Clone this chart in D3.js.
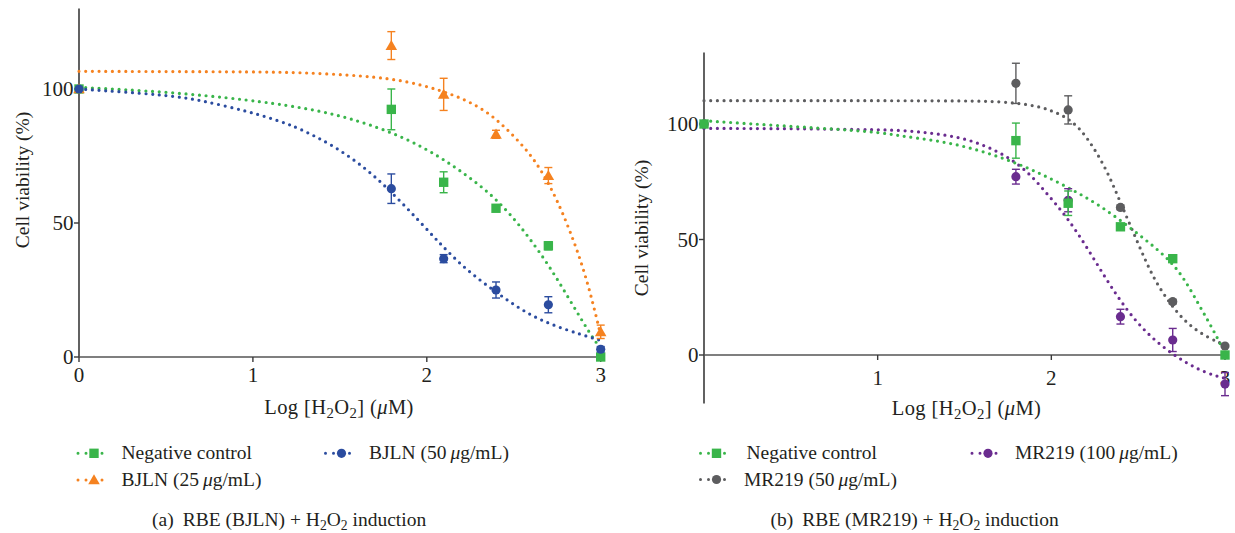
<!DOCTYPE html>
<html>
<head>
<meta charset="utf-8">
<script src="https://cdn.jsdelivr.net/npm/d3@7"></script>
<style>
  html, body { margin: 0; padding: 0; background: #fff; }
  svg { display: block; }
  text { font-family: "Liberation Serif", "DejaVu Serif", serif; fill: #231f20; }
</style>
</head>
<body>
<svg id="chart" width="1235" height="533"></svg>
<script>
// ---------------- DATA ----------------
const logConc = [0, 1.796, 2.097, 2.398, 2.699, 3];
const xTicksA = [0, 1, 2, 3];
const xTicksB = [1, 2, 3];
const yTicks = [0, 50, 100];

// Panel (a)
const ncA = [100, 92.4, 65.2, 55.5, 41.5, 0];
const ncAErr = [0, 7.6, 3.9, 1, 1.5, 0.5];
const bjln25 = [100, 116.2, 98, 83.1, 67.7, 9.4];
const bjln25Err = [0, 5.2, 6, 1.5, 3, 2.5];
const bjln50 = [100, 62.8, 36.7, 25, 19.5, 2.9];
const bjln50Err = [0, 5.5, 1.5, 3, 3, 1];

// fitted curves [logConc, viability]
const ncAFit = [[0,100.6],[0.504,99.0],[0.983,95.9],[1.27,93.2],[1.462,90.7],[1.653,87.2],[1.883,81.6],[2.075,74.7],[2.228,67.9],[2.362,61.1],[2.477,53.6],[2.592,44.3],[2.707,33.7],[2.822,21.3],[2.937,8.8],[2.99,4.0]];
const bjln25Fit = [[0,106.6],[0.5,106.5],[1.0,106.4],[1.27,106.2],[1.653,104.9],[1.883,103.0],[2.075,99.6],[2.228,95.9],[2.362,90.9],[2.477,84.1],[2.592,76.0],[2.669,68.5],[2.745,59.2],[2.822,47.4],[2.898,33.7],[2.956,20.0],[2.997,9.0]];
const bjln50Fit = [[0,100],[0.504,97.8],[0.695,95.9],[0.983,91.5],[1.174,87.6],[1.27,85.2],[1.462,79.0],[1.653,70.3],[1.806,61.0],[1.960,50.5],[2.094,41.0],[2.228,32.5],[2.381,25.0],[2.515,18.8],[2.649,13.8],[2.803,10.1],[2.956,7.0],[2.994,6.3]];

// Panel (b)
const ncB = [100, 92.8, 65.7, 55.5, 41.7, 0];
const ncBErr = [0, 7.6, 5.3, 1, 1.5, 0.5];
const mr50 = [100, 117.6, 106.1, 63.9, 23.1, 3.9];
const mr50Err = [0, 8.7, 6.1, 1, 1, 0.5];
const mr100 = [100, 77.2, 67, 16.6, 6.5, -12.6];
const mr100Err = [0, 3.2, 5, 3.2, 5, 5];

const ncBFit = [[0,101.4],[0.53,98.8],[0.994,96.7],[1.128,94.8],[1.320,93.1],[1.512,90.2],[1.704,85.8],[1.896,80.1],[2.088,72.9],[2.280,64.9],[2.472,54.1],[2.664,42.6],[2.760,33.9],[2.856,20.9],[2.933,10.8],[2.985,3.0]];
const mr50Fit = [[0,110.1],[0.5,110.1],[1.0,110.1],[1.5,110.0],[1.704,109.8],[1.896,108.2],[1.992,106.1],[2.088,102.9],[2.165,98.1],[2.241,90.2],[2.318,80.1],[2.376,70.0],[2.433,59.9],[2.491,49.8],[2.549,39.7],[2.606,31.0],[2.683,22.4],[2.760,15.2],[2.856,9.4],[2.971,5.1],[3.0,4.5]];
const mr100Fit = [[0,98.1],[0.5,98.0],[0.917,97.6],[1.128,97.4],[1.320,96.0],[1.512,93.8],[1.704,88.0],[1.858,80.1],[1.973,70.0],[2.088,59.9],[2.203,46.9],[2.318,32.5],[2.433,19.5],[2.549,9.4],[2.664,2.2],[2.779,-3.6],[2.894,-7.9],[3.0,-10.1]];

const legendA = ["Negative control", "BJLN (25 ", "BJLN (50 "];
const legendB = ["Negative control", "MR219 (50 ", "MR219 (100 "];

const colors = { green: "#39b54a", orange: "#f58220", blue: "#2b4c9f", gray: "#5d5d5f", purple: "#6a2c8f" };

// ---------------- DRAW ----------------
const svg = d3.select("#chart");
const axisColor = "#3a3a3a";
const FS = 19.5;
const TFS = 21;

function drawPanel(p) {
  const g = svg.append("g");
  const x = d3.scaleLinear().domain([0, 3]).range(p.xRange);
  const y = d3.scaleLinear().domain(p.yDomain).range(p.yRange);

  // axes
  g.append("line").attr("x1", x(0)).attr("x2", x(0)).attr("y1", y(p.yDomain[0])).attr("y2", y(p.yDomain[1]))
    .attr("stroke", axisColor).attr("stroke-width", 1.6);
  g.append("line").attr("x1", x(0)).attr("x2", x(3) + 1).attr("y1", y(0)).attr("y2", y(0))
    .attr("stroke", "#555").attr("stroke-width", 1.6);

  // y ticks
  p.yTicks.forEach(t => {
    g.append("line").attr("x1", x(0) - 5).attr("x2", x(0)).attr("y1", y(t)).attr("y2", y(t))
      .attr("stroke", axisColor).attr("stroke-width", 1.4);
    g.append("text").attr("x", x(0) - 5.5).attr("y", y(t) + 7).attr("text-anchor", "end")
      .attr("font-size", TFS).text(t);
  });
  // x ticks
  p.xTicks.forEach(t => {
    g.append("line").attr("x1", x(t)).attr("x2", x(t)).attr("y1", y(0)).attr("y2", y(0) + 5)
      .attr("stroke", axisColor).attr("stroke-width", 1.4);
    g.append("text").attr("x", x(t)).attr("y", y(0) + p.xLabelDy).attr("text-anchor", "middle")
      .attr("font-size", TFS).text(t);
  });

  // axis titles
  g.append("text").attr("transform", `translate(${p.yTitle[0]},${p.yTitle[1]}) rotate(-90)`)
    .attr("text-anchor", "middle").attr("font-size", FS).text("Cell viability (%)");
  const xt = g.append("text").attr("x", p.xTitle[0]).attr("y", p.xTitle[1]).attr("text-anchor", "middle")
    .attr("font-size", 20.5).attr("letter-spacing", 0.4);
  xt.append("tspan").text("Log [H");
  xt.append("tspan").attr("font-size", 20.5 * 0.72).attr("dy", 4).text("2");
  xt.append("tspan").attr("dy", -4).text("O");
  xt.append("tspan").attr("font-size", 20.5 * 0.72).attr("dy", 4).text("2");
  xt.append("tspan").attr("dy", -4).text("] (");
  xt.append("tspan").attr("font-style", "italic").text("μ");
  xt.append("tspan").text("M)");

  const line = d3.line().x(d => x(d[0])).y(d => y(d[1])).curve(d3.curveBasis);

  // curves
  p.series.forEach(s => {
    g.append("path").datum(s.fit).attr("d", line).attr("fill", "none")
      .attr("stroke", s.color).attr("stroke-width", 3.2)
      .attr("stroke-linecap", "round").attr("stroke-dasharray", "0,6.7");
  });

  // points with error bars
  p.series.forEach(s => {
    const pts = logConc.map((c, i) => ({ c, v: s.values[i], e: s.err[i] }));
    pts.forEach(d => {
      if (d.e > 0) {
        g.append("line").attr("x1", x(d.c)).attr("x2", x(d.c)).attr("y1", y(d.v - d.e)).attr("y2", y(d.v + d.e))
          .attr("stroke", s.color).attr("stroke-width", 1.4);
        [d.v - d.e, d.v + d.e].forEach(vv => {
          g.append("line").attr("x1", x(d.c) - 4).attr("x2", x(d.c) + 4).attr("y1", y(vv)).attr("y2", y(vv))
            .attr("stroke", s.color).attr("stroke-width", 1.4);
        });
      }
    });
    g.selectAll(null).data(pts).enter().append("path")
      .attr("transform", d => `translate(${x(d.c)},${y(d.v) + (s.shape === d3.symbolTriangle ? 1 : 0)})`)
      .attr("d", d3.symbol().type(s.shape).size(s.size))
      .attr("fill", s.color);
  });

  // legend
  p.legend.forEach(l => {
    const s = p.series[l.idx];
    g.append("line").attr("x1", l.x).attr("x2", l.x + 32).attr("y1", l.y).attr("y2", l.y)
      .attr("stroke", s.color).attr("stroke-width", 3).attr("stroke-linecap", "round").attr("stroke-dasharray", "0,8");
    g.append("path").attr("transform", `translate(${l.x + 16},${l.y + (s.shape === d3.symbolTriangle ? 1 : 0)})`)
      .attr("d", d3.symbol().type(s.shape).size(s.size)).attr("fill", s.color);
    const t = g.append("text").attr("x", l.tx).attr("y", l.y + 6).attr("font-size", FS);
    if (l.label.endsWith(" ")) {
      t.append("tspan").text(l.label.trimEnd() + "\u2009");
      t.append("tspan").attr("font-style", "italic").text("μ");
      t.append("tspan").text("g/mL)");
    } else {
      t.text(l.label);
    }
  });

  // caption
  const c = g.append("text").attr("x", p.caption[0]).attr("y", p.caption[1]).attr("font-size", FS);
  c.append("tspan").text(p.captionTag);
  c.append("tspan").attr("dx", 9).text(p.captionText + " + H");
  c.append("tspan").attr("font-size", FS * 0.7).attr("dy", 4).text("2");
  c.append("tspan").attr("dy", -4).text("O");
  c.append("tspan").attr("font-size", FS * 0.7).attr("dy", 4).text("2");
  c.append("tspan").attr("dy", -4).text(" induction");
}

drawPanel({
  xRange: [79, 600.7],
  yDomain: [0, 130],
  yRange: [357, 8.6],
  yTicks: yTicks,
  xTicks: xTicksA,
  xLabelDy: 25,
  yTitle: [29, 180],
  xTitle: [339, 413.5],
  series: [
    { values: ncA, err: ncAErr, fit: ncAFit, color: colors.green, shape: d3.symbolSquare, size: 88 },
    { values: bjln25, err: bjln25Err, fit: bjln25Fit, color: colors.orange, shape: d3.symbolTriangle, size: 58 },
    { values: bjln50, err: bjln50Err, fit: bjln50Fit, color: colors.blue, shape: d3.symbolCircle, size: 66 }
  ],
  legend: [
    { idx: 0, label: legendA[0], x: 78, y: 453.3, tx: 121.5 },
    { idx: 1, label: legendA[1], x: 78, y: 480, tx: 121.5 },
    { idx: 2, label: legendA[2], x: 325.5, y: 453.3, tx: 369 }
  ],
  caption: [152, 525.5],
  captionTag: "(a)",
  captionText: "RBE (BJLN)"
});

drawPanel({
  xRange: [704, 1225],
  yDomain: [-21, 131],
  yRange: [355 + 21 * 2.31, 355 - 131 * 2.31],
  yTicks: yTicks,
  xTicks: xTicksB,
  xLabelDy: 30,
  yTitle: [648, 228],
  xTitle: [966.5, 415],
  series: [
    { values: mr50, err: mr50Err, fit: mr50Fit, color: colors.gray, shape: d3.symbolCircle, size: 66 },
    { values: mr100, err: mr100Err, fit: mr100Fit, color: colors.purple, shape: d3.symbolCircle, size: 66 },
    { values: ncB, err: ncBErr, fit: ncBFit, color: colors.green, shape: d3.symbolSquare, size: 88 }
  ],
  legend: [
    { idx: 2, label: legendB[0], x: 700.5, y: 453.3, tx: 746.5 },
    { idx: 0, label: legendB[1], x: 700.5, y: 479.5, tx: 744 },
    { idx: 1, label: legendB[2], x: 972, y: 453.3, tx: 1015 }
  ],
  caption: [770.5, 525.5],
  captionTag: "(b)",
  captionText: "RBE (MR219)"
});
</script>
</body>
</html>
